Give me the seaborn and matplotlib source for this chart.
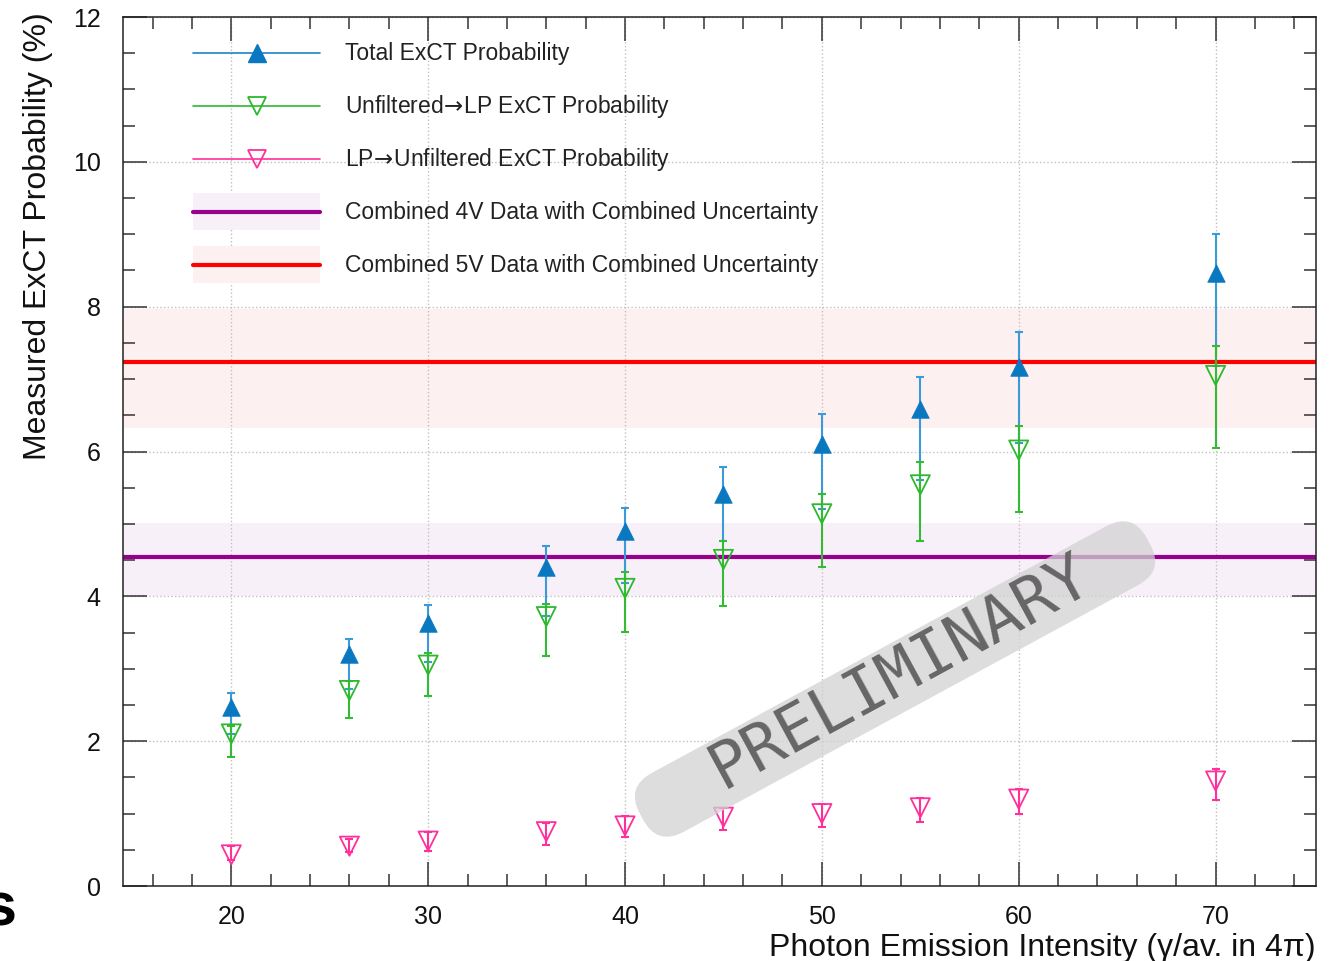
import numpy as np
import pandas as pd
import matplotlib
matplotlib.use("Agg")
import matplotlib.pyplot as plt
import matplotlib.transforms as mtransforms
import seaborn as sns
from matplotlib.lines import Line2D
from matplotlib.patches import Patch, FancyBboxPatch
from matplotlib.legend_handler import HandlerTuple, HandlerLine2D
from matplotlib.ticker import MultipleLocator

# datos
intensity = [20, 26, 30, 36, 40, 45, 50, 55, 60, 70]

total = [2.47, 3.20, 3.63, 4.41, 4.90, 5.42, 6.11, 6.59, 7.17, 8.47]
total_hi = [2.66, 3.41, 3.88, 4.70, 5.22, 5.78, 6.52, 7.03, 7.65, 9.00]
total_lo = [2.10, 2.72, 3.09, 3.73, 4.18, 4.76, 5.21, 5.60, 6.12, 7.18]

unf_lp = [2.10, 2.70, 3.05, 3.72, 4.11, 4.51, 5.14, 5.54, 6.02, 7.05]
unf_lp_hi = [2.21, 2.83, 3.22, 3.89, 4.33, 4.76, 5.42, 5.86, 6.35, 7.46]
unf_lp_lo = [1.78, 2.32, 2.62, 3.17, 3.51, 3.87, 4.41, 4.77, 5.16, 6.05]

lp_unf = [0.43, 0.55, 0.62, 0.75, 0.83, 0.95, 1.00, 1.08, 1.20, 1.45]
lp_unf_hi = [0.55, 0.65, 0.75, 0.87, 0.97, 1.08, 1.13, 1.22, 1.34, 1.61]
lp_unf_lo = [0.36, 0.47, 0.49, 0.57, 0.68, 0.78, 0.82, 0.89, 0.99, 1.19]

# combinados 4V y 5V: valor, banda inferior, banda superior
comb_4v = [4.54, 4.00, 5.01]
comb_5v = [7.24, 6.33, 7.97]

labels = ["Total ExCT Probability",
          r"Unfiltered$\!\rightarrow\!$LP ExCT Probability",
          r"LP$\!\rightarrow\!$Unfiltered ExCT Probability",
          "Combined 4V Data with Combined Uncertainty",
          "Combined 5V Data with Combined Uncertainty"]

df = pd.DataFrame({"x": intensity, "total": total, "unf": unf_lp, "lp": lp_unf})

blue = "#0a78c0"
blue_err = "#3b9bd8"
green = "#2db82d"
pink = "#ff2f9c"
purple = "#96008c"
red = "#ff0000"
purple_band = "#f8f0f8"
red_band = "#fdf0f0"


class CenteredLine(HandlerLine2D):
    # linea de la leyenda centrada en la caja (como en ROOT)
    def create_artists(self, legend, orig_handle, xdescent, ydescent, width, height,
                       fontsize, trans):
        arts = super().create_artists(legend, orig_handle, xdescent, ydescent, width,
                                      height, fontsize, trans)
        for a in arts:
            a.set_ydata(np.full_like(np.asarray(a.get_xdata(), float), height / 2 - ydescent))
        return arts


sns.set_theme(style="ticks")
plt.rcParams["font.family"] = ["Liberation Sans", "DejaVu Sans"]
plt.rcParams["mathtext.fontset"] = "dejavusans"

fig = plt.figure(figsize=(13.34, 9.61), dpi=100)
ax = fig.add_axes([123 / 1334, 1 - 886 / 961, 1193 / 1334, 869 / 961])

# bandas
ax.axhspan(comb_4v[1], comb_4v[2], color=purple_band, lw=0, zorder=0)
ax.axhspan(comb_5v[1], comb_5v[2], color=red_band, lw=0, zorder=0)
ax.grid(which="major", ls=":", color="#c0c0c0", lw=1.0, zorder=1)
ax.set_axisbelow(True)
ax.axhline(comb_4v[0], color=purple, lw=3, zorder=2)
ax.axhline(comb_5v[0], color=red, lw=3, zorder=2)

series = [
    (total, total_lo, total_hi, blue_err),
    (unf_lp, unf_lp_lo, unf_lp_hi, "#33bb33"),
    (lp_unf, lp_unf_lo, lp_unf_hi, pink),
]
for y, lo, hi, c in series:
    y = np.array(y)
    err = [y - np.array(lo), np.array(hi) - y]
    ax.errorbar(intensity, y, yerr=err, fmt="none", ecolor=c, elinewidth=1.5,
                capsize=3, capthick=1.5, zorder=3)

sns.scatterplot(data=df, x="x", y="total", marker="^", s=160, color=blue,
                edgecolor=blue, linewidth=0.5, ax=ax, zorder=5, legend=False)
sns.scatterplot(data=df, x="x", y="unf", marker="v", s=190, facecolors="none",
                edgecolor=green, color=green, linewidth=1.3, ax=ax, zorder=5, legend=False)
sns.scatterplot(data=df, x="x", y="lp", marker="v", s=190, facecolors="none",
                edgecolor=pink, color=pink, linewidth=1.3, ax=ax, zorder=5, legend=False)

ax.set_xlim(14.5, 75.1)
ax.set_ylim(0, 12)
ax.xaxis.set_major_locator(MultipleLocator(10))
ax.xaxis.set_minor_locator(MultipleLocator(2))
ax.yaxis.set_major_locator(MultipleLocator(2))
ax.yaxis.set_minor_locator(MultipleLocator(0.5))
ax.tick_params(which="both", direction="in", top=True, right=True,
               color="#333333", width=1.1, labelsize=18, labelcolor="#111111")
ax.tick_params(which="major", length=17)
ax.tick_params(which="minor", length=8.5)
ax.tick_params(axis="x", pad=14)
ax.tick_params(axis="y", pad=16)
for sp in ax.spines.values():
    sp.set_linewidth(1.1)
    sp.set_color("#222222")

ax.set_xlabel("Photon Emission Intensity (\u03b3/av. in 4\u03c0)", fontsize=23,
              loc="right", color="#111111")
ax.set_ylabel("Measured ExCT Probability (%)", fontsize=23, loc="top", color="#111111")
ax.xaxis.set_label_coords(1.0, -0.054)
ax.yaxis.set_label_coords(-0.059, 1.006)

handles = [
    Line2D([], [], color="#1a84cc", lw=1.2, marker="^", ms=12.5, mfc=blue, mec=blue),
    Line2D([], [], color=green, lw=1.2, marker="v", ms=13.5, mfc="none", mec=green, mew=1.3),
    Line2D([], [], color=pink, lw=1.2, marker="v", ms=13.5, mfc="none", mec=pink, mew=1.3),
    (Patch(fc=purple_band, ec="none"), Line2D([], [], color=purple, lw=3)),
    (Patch(fc=red_band, ec="none"), Line2D([], [], color=red, lw=3)),
]
ax.legend(handles, labels, loc="upper left", bbox_to_anchor=(0.0587, 0.9799),
          frameon=False, fontsize=16.5, borderpad=0, borderaxespad=0,
          handlelength=5.55, handleheight=2.1, handletextpad=1.09, labelspacing=0.70,
          numpoints=1, labelcolor="#222222",
          handler_map={Line2D: CenteredLine(), tuple: HandlerTuple(ndivide=1)})

# marca de agua PRELIMINARY
cx, cy = 895, 961 - 679
w, h = 577, 67
box = FancyBboxPatch((-w / 2, -h / 2), w, h, boxstyle="round,pad=0,rounding_size=30",
                     fc="#d2d2d2", ec="none", alpha=0.75, zorder=10,
                     transform=mtransforms.Affine2D().rotate_deg(28.5).translate(cx, cy))
fig.add_artist(box)
fig.text(900 / 1334, 1 - 672 / 961, "PRELIMINARY", rotation=28.5, rotation_mode="anchor",
         ha="center", va="center", fontsize=46, family="DejaVu Sans Mono",
         color="#666666", zorder=11)

# trozo de letra en el borde
fig.text(0.0, 1 - 925 / 961, "s", ha="center", va="baseline", fontsize=44,
         weight="bold", color="black")

fig.savefig("out.png", dpi=100)
